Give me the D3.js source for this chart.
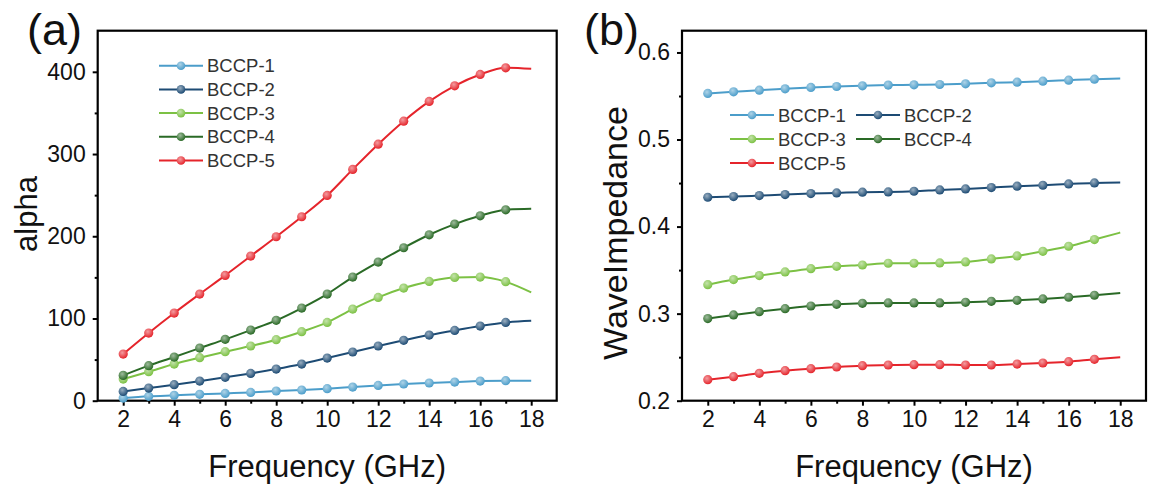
<!DOCTYPE html>
<html>
<head>
<meta charset="utf-8">
<script src="https://cdn.jsdelivr.net/npm/d3@7"></script>
<style>
  body { margin: 0; background: #fff; }
  svg { font-family: "Liberation Sans", Arial, sans-serif; }
</style>
</head>
<body>
<svg id="chart" width="1152" height="493"></svg>
<script>
// frequences (GHz)
const freq = [2, 3, 4, 5, 6, 7, 8, 9, 10, 11, 12, 13, 14, 15, 16, 17, 18];

// (a) alpha
const alphaBCCP1 = [3.2, 5.3, 6.5, 7.7, 8.9, 10.1, 11.8, 13.0, 14.6, 16.6, 18.6, 20.3, 21.5, 22.7, 23.9, 24.3, 24.3];
const alphaBCCP2 = [11.3, 15.4, 19.5, 23.9, 28.4, 33.2, 38.5, 44.6, 51.9, 59.2, 66.5, 73.4, 79.8, 85.5, 90.8, 95.2, 97.3];
const alphaBCCP3 = [26.3, 35.3, 44.6, 52.3, 59.6, 66.5, 74.2, 83.9, 95.2, 111.4, 125.6, 137.0, 145.1, 149.9, 150.4, 144.7, 131.7];
const alphaBCCP4 = [30.8, 42.6, 53.1, 64.0, 74.6, 85.9, 97.7, 112.7, 129.7, 150.4, 168.6, 186.0, 201.8, 214.8, 224.9, 232.2, 233.4];
const alphaBCCP5 = [56.7, 82.3, 106.6, 129.7, 152.4, 175.9, 199.4, 223.7, 249.6, 281.3, 312.0, 340.0, 364.0, 383.0, 396.8, 404.9, 403.6];

// (b) impedance
const impBCCP1 = [0.5529, 0.5548, 0.5567, 0.5582, 0.5598, 0.5609, 0.5617, 0.5625, 0.5628, 0.5632, 0.5640, 0.5651, 0.5659, 0.5670, 0.5682, 0.5693, 0.5701];
const impBCCP2 = [0.4337, 0.4345, 0.4356, 0.4368, 0.4379, 0.4387, 0.4395, 0.4398, 0.4406, 0.4421, 0.4433, 0.4448, 0.4464, 0.4475, 0.4490, 0.4502, 0.4506];
const impBCCP3 = [0.3333, 0.3391, 0.3437, 0.3479, 0.3517, 0.3544, 0.3559, 0.3579, 0.3579, 0.3582, 0.3594, 0.3628, 0.3663, 0.3716, 0.3774, 0.3851, 0.3931];
const impBCCP4 = [0.2943, 0.2985, 0.3023, 0.3057, 0.3088, 0.3107, 0.3119, 0.3123, 0.3123, 0.3123, 0.3130, 0.3142, 0.3153, 0.3169, 0.3188, 0.3211, 0.3238];
const impBCCP5 = [0.2241, 0.2276, 0.2314, 0.2345, 0.2368, 0.2387, 0.2402, 0.2410, 0.2414, 0.2414, 0.2410, 0.2410, 0.2421, 0.2433, 0.2448, 0.2475, 0.2498];

const seriesNames = ["BCCP-1", "BCCP-2", "BCCP-3", "BCCP-4", "BCCP-5"];
const xTicks = [2, 4, 6, 8, 10, 12, 14, 16, 18];
const alphaTicks = [0, 100, 200, 300, 400];
const impTicks = [0.2, 0.3, 0.4, 0.5, 0.6];

const colors = ["#4b9dca", "#1d4b74", "#7cc144", "#2a6a26", "#e5242b"];

const svg = d3.select("#chart");

// marqueurs type "bille"
const defs = svg.append("defs");
colors.forEach((c, i) => {
  const grad = defs.append("radialGradient")
    .attr("id", "ball" + i)
    .attr("cx", "40%").attr("cy", "35%").attr("r", "65%");
  grad.append("stop").attr("offset", "0%").attr("stop-color", d3.interpolateRgb(c, "#fff")(0.55));
  grad.append("stop").attr("offset", "100%").attr("stop-color", c);
});

function drawPanel(p) {
  const x = d3.scaleLinear().domain([1, 19]).range([p.left, p.right]);
  const y = d3.scaleLinear().domain(p.yDomain).range([p.bottom, p.top]);
  const g = svg.append("g");

  // axes (ticks vers l'exterieur)
  const styleAxis = sel => {
    sel.select(".domain").remove();
    sel.selectAll("line").attr("stroke", "#000").attr("stroke-width", 2);
    sel.selectAll("text").attr("font-size", 23).attr("fill", "#111")
      .attr("font-family", "Liberation Sans, Arial, sans-serif");
  };
  g.append("g").attr("transform", `translate(0,${p.bottom})`)
    .call(d3.axisBottom(x).tickValues(d3.range(3, 18, 2)).tickSize(3).tickFormat(""))
    .call(styleAxis);
  g.append("g").attr("transform", `translate(0,${p.bottom})`)
    .call(d3.axisBottom(x).tickValues(xTicks).tickSize(5).tickPadding(5))
    .call(styleAxis);
  g.append("g").attr("transform", `translate(${p.left},0)`)
    .call(d3.axisLeft(y).tickValues(p.yMinor).tickSize(3).tickFormat(""))
    .call(styleAxis);
  g.append("g").attr("transform", `translate(${p.left},0)`)
    .call(d3.axisLeft(y).tickValues(p.yTicks).tickSize(5).tickPadding(7).tickFormat(p.yFormat))
    .call(styleAxis);

  // cadre
  g.append("rect")
    .attr("x", p.left).attr("y", p.top)
    .attr("width", p.right - p.left).attr("height", p.bottom - p.top)
    .attr("fill", "none").attr("stroke", "#000").attr("stroke-width", 2.2);

  const line = d3.line().x((d, i) => x(freq[i])).y(d => y(d)).curve(d3.curveMonotoneX);

  p.series.forEach((vals, s) => {
    g.append("path")
      .attr("d", line(vals))
      .attr("fill", "none")
      .attr("stroke", colors[s])
      .attr("stroke-width", 2);
    // pas de marqueur au dernier point (18 GHz)
    g.selectAll(null)
      .data(vals.slice(0, -1))
      .join("circle")
      .attr("cx", (d, i) => x(freq[i]))
      .attr("cy", d => y(d))
      .attr("r", 4.6)
      .attr("fill", `url(#ball${s})`);
  });

  // legende
  const lg = p.legend;
  seriesNames.forEach((name, s) => {
    const col = s % lg.cols;
    const row = Math.floor(s / lg.cols);
    const lx = lg.x + col * lg.colWidth;
    const ly = lg.y + row * lg.rowHeight;
    g.append("line")
      .attr("x1", lx).attr("x2", lx + 44)
      .attr("y1", ly).attr("y2", ly)
      .attr("stroke", colors[s]).attr("stroke-width", 2);
    g.append("circle")
      .attr("cx", lx + 22).attr("cy", ly).attr("r", 4.3)
      .attr("fill", `url(#ball${s})`);
    g.append("text")
      .attr("x", lx + 48).attr("y", ly + 6.5)
      .attr("font-size", 18.5).attr("fill", "#333")
      .text(name);
  });

  // titres
  g.append("text")
    .attr("x", (p.left + p.right) / 2).attr("y", 477)
    .attr("text-anchor", "middle")
    .attr("font-size", 31).attr("fill", "#111")
    .text("Frequency (GHz)");
  g.append("text")
    .attr("transform", `translate(${p.yTitleX},${p.yTitleY}) rotate(-90)`)
    .attr("text-anchor", "middle")
    .attr("font-size", p.yTitleSize).attr("fill", "#111")
    .text(p.yTitle);

  g.append("text")
    .attr("x", p.tagX).attr("y", 45)
    .attr("font-size", 45).attr("fill", "#111")
    .text(p.tag);
}

drawPanel({
  left: 97.7, right: 556.7, top: 30.7, bottom: 400.7,
  yDomain: [0, 450], yTicks: alphaTicks, yMinor: [50, 150, 250, 350],
  yFormat: d3.format("d"),
  series: [alphaBCCP1, alphaBCCP2, alphaBCCP3, alphaBCCP4, alphaBCCP5],
  legend: { x: 159, y: 65.7, cols: 1, colWidth: 0, rowHeight: 23.7 },
  yTitle: "alpha", yTitleX: 37, yTitleY: 214, yTitleSize: 31,
  tag: "(a)", tagX: 27
});

drawPanel({
  left: 682, right: 1146, top: 30.7, bottom: 400.7,
  yDomain: [0.2, 0.625], yTicks: impTicks, yMinor: [0.25, 0.35, 0.45, 0.55],
  yFormat: d3.format(".1f"),
  series: [impBCCP1, impBCCP2, impBCCP3, impBCCP4, impBCCP5],
  legend: { x: 730, y: 115, cols: 2, colWidth: 126, rowHeight: 24 },
  yTitle: "WaveImpedance", yTitleX: 627, yTitleY: 233, yTitleSize: 34,
  tag: "(b)", tagX: 584
});
</script>
</body>
</html>
